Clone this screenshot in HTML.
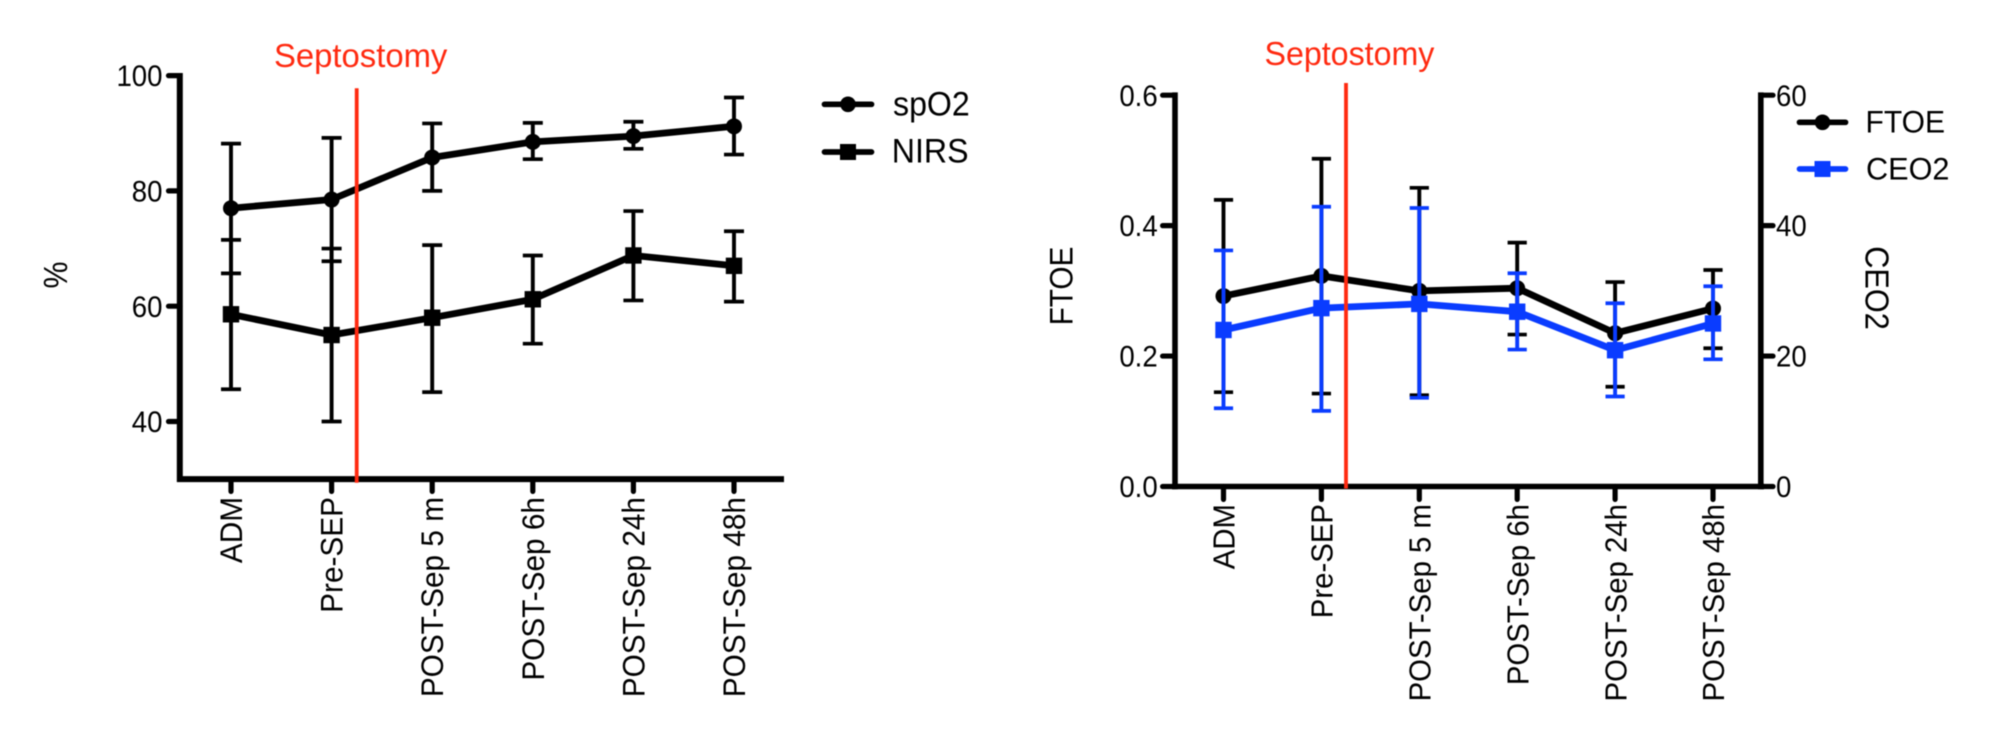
<!DOCTYPE html>
<html lang="en">
<head>
<meta charset="utf-8">
<title>Septostomy charts</title>
<style>
html,body{margin:0;padding:0;background:#fff;width:1989px;height:732px;overflow:hidden}
svg{display:block;filter:blur(0.4px)}
text{font-family:"Liberation Sans",Arial,sans-serif;fill:#000}
</style>
</head>
<body>
<svg id="figure" xmlns="http://www.w3.org/2000/svg" width="1989" height="732" viewBox="0 0 1989 732"></svg>
<script>
// Shared categories
const categories = ['ADM', 'Pre-SEP', 'POST-Sep 5 m', 'POST-Sep 6h', 'POST-Sep 24h', 'POST-Sep 48h'];

// Left chart values
const leftTicks = [40, 60, 80, 100];
const spo2Mean = [77, 78.5, 85.8, 88.5, 89.5, 91.2];
const spo2Upper = [88.2, 89.2, 91.7, 91.8, 92, 96.2];
const spo2Lower = [65.7, 67.8, 80, 85.5, 87.3, 86.3];
const nirsMean = [58.6, 55, 58, 61.2, 68.8, 67];
const nirsUpper = [71.5, 70, 70.6, 68.8, 76.5, 73];
const nirsLower = [45.6, 40, 45.1, 53.5, 61, 60.8];

// Right chart values
const ftoeTicks = ['0.0', '0.2', '0.4', '0.6'];
const ceo2Ticks = ['0', '20', '40', '60'];
const ftoeMean = [0.292, 0.323, 0.3, 0.304, 0.235, 0.273];
const ftoeUpper = [0.4395, 0.5025, 0.458, 0.374, 0.3135, 0.332];
const ftoeLower = [0.1446, 0.1425, 0.14, 0.233, 0.153, 0.212];
const ceo2Mean = [24, 27.35, 28, 26.8, 20.9, 25];
const ceo2Upper = [36.2, 42.9, 42.7, 32.7, 28.1, 30.7];
const ceo2Lower = [12, 11.6, 13.6, 21, 13.8, 19.5];

const NS = 'http://www.w3.org/2000/svg';
const svg = document.getElementById('figure');
const BLACK = '#000000', BLUE = '#0a3cff', RED = '#ff2a10';

function add(tag, attrs, txt) {
  const el = document.createElementNS(NS, tag);
  for (const k in attrs) el.setAttribute(k, attrs[k]);
  if (txt !== undefined) el.textContent = txt;
  svg.appendChild(el);
  return el;
}
function line(x1, y1, x2, y2, color, w, cap) {
  return add('line', {x1: x1, y1: y1, x2: x2, y2: y2, stroke: color, 'stroke-width': w, 'stroke-linecap': cap || 'butt'});
}
// Condense a text horizontally along its baseline, as in the reference.
function squeeze(t, f) {
  t.setAttribute('textLength', (t.getComputedTextLength() * f).toFixed(2));
  t.setAttribute('lengthAdjust', 'spacingAndGlyphs');
}

// Axis functions
const xLeft = i => 231 + i * 100.6;
const yLeft = v => 75.6 + (100 - v) * 5.765;
const xRight = i => 1223.5 + i * 97.9;
const yFtoe = v => 486.5 - v * (391.3 / 0.6);
const yCeo2 = v => 486.5 - v * (391.3 / 60);

function drawSeries(prefix, kind, color, xf, yf, mean, upper, lower, capHalf) {
  mean.forEach((m, i) => {
    const x = xf(i);
    const stem = line(x, yf(upper[i]), x, yf(lower[i]), color, 3.9);
    
    
    const capTop = line(x - capHalf, yf(upper[i]), x + capHalf, yf(upper[i]), color, 3.7);
    
    
    const capBottom = line(x - capHalf, yf(lower[i]), x + capHalf, yf(lower[i]), color, 3.7);
    
    
  });
  const pts = mean.map((m, i) => xf(i).toFixed(1) + ',' + yf(m).toFixed(1)).join(' ');
  const path = add('polyline', {points: pts, fill: 'none', stroke: color, 'stroke-width': 6.8, 'stroke-linejoin': 'round'});
  
  
  mean.forEach((m, i) => {
    const x = xf(i), y = yf(m);
    const mark = kind === 'circle'
      ? add('circle', {cx: x, cy: y, r: 8, fill: color})
      : add('rect', {x: x - 8.2, y: y - 8.2, width: 16.4, height: 16.4, fill: color});
    
    
  });
}

function drawLegend(prefix, kind, color, x1, x2, y, label, tx, ty, fs, f) {
  const l = line(x1, y, x2, y, color, 5.7, 'round');
  
  
  const cx = (x1 + x2) / 2;
  const mark = kind === 'circle'
    ? add('circle', {cx: cx, cy: y, r: 7.8, fill: color})
    : add('rect', {x: cx - 8, y: y - 8, width: 16, height: 16, fill: color});
  
  
  const t = add('text', {x: tx, y: ty, 'font-size': fs}, label);
  
  
  squeeze(t, f);
}

function drawCategories(xf, axisY, tickEnd, labelTop, fs, offset, f) {
  categories.forEach((c, i) => {
    const x = xf(i);
    const tick = line(x, axisY, x, tickEnd - 2.6, BLACK, 5.2, 'round');
    
    
    const bx = x + offset;
    const t = add('text', {x: bx, y: labelTop, 'font-size': fs, 'text-anchor': 'end', transform: 'rotate(-90 ' + bx + ' ' + labelTop + ')'}, c);
    
    
    squeeze(t, f);
  });
}

/* ---------- Left chart ---------- */
const lAxisY = line(179.8, 73, 179.8, 482, BLACK, 6);


const lAxisX = line(177, yLeft(30), 784, yLeft(30), BLACK, 6);


leftTicks.forEach(v => {
  const tick = line(168.5, yLeft(v), 180, yLeft(v), BLACK, 5.2, 'round');
  
  
  const t = add('text', {x: 162.5, y: yLeft(v) + 10.6, 'font-size': 30, 'text-anchor': 'end'}, String(v));
  
  
  squeeze(t, 0.92);
});
drawCategories(xLeft, yLeft(30), 494, 497, 31.5, 11, 0.945);
const lTitle = add('text', {x: 67, y: 275, 'font-size': 33, 'text-anchor': 'middle', transform: 'rotate(-90 67 275)'}, '%');


squeeze(lTitle, 0.92);

drawSeries('spo2', 'circle', BLACK, xLeft, yLeft, spo2Mean, spo2Upper, spo2Lower, 10);
drawSeries('nirs', 'square', BLACK, xLeft, yLeft, nirsMean, nirsUpper, nirsLower, 10);

const lRed = line(356.7, 88.3, 356.7, 482.7, RED, 3.8);


const lSep = add('text', {x: 274, y: 66.8, 'font-size': 33.5, style: 'fill:' + RED}, 'Septostomy');


squeeze(lSep, 0.98);

drawLegend('spo2', 'circle', BLACK, 824.5, 871.5, 104.3, 'spO2', 893, 115.7, 34, 0.945);
drawLegend('nirs', 'square', BLACK, 824.5, 871.5, 152, 'NIRS', 891.8, 162.7, 34, 0.945);

/* ---------- Right chart ---------- */
const rAxisL = line(1175, 92.4, 1175, 489.2, BLACK, 5.6);


const rAxisR = line(1760.8, 92.4, 1760.8, 489.2, BLACK, 5.6);


const rAxisX = line(1172, 486.5, 1764, 486.5, BLACK, 5.6);


ftoeTicks.forEach(v => {
  const y = yFtoe(parseFloat(v));
  const tick = line(1162.6, y, 1175, y, BLACK, 5.2, 'round');
  
  
  const t = add('text', {x: 1157.7, y: y + 10.6, 'font-size': 30, 'text-anchor': 'end'}, v);
  
  
  squeeze(t, 0.92);
});
ceo2Ticks.forEach(v => {
  const y = yCeo2(parseFloat(v));
  const tick = line(1760.8, y, 1773, y, BLACK, 5.2, 'round');
  
  
  const t = add('text', {x: 1776, y: y + 10.6, 'font-size': 30}, v);
  
  
  squeeze(t, 0.92);
});
drawCategories(xRight, 486.5, 502, 504, 31, 11.2, 0.947);
const rTitleL = add('text', {x: 1072.6, y: 286, 'font-size': 32, 'text-anchor': 'middle', transform: 'rotate(-90 1072.6 286)'}, 'FTOE');


squeeze(rTitleL, 0.93);
const rTitleR = add('text', {x: 1865.6, y: 288, 'font-size': 33, 'text-anchor': 'middle', transform: 'rotate(90 1865.6 288)'}, 'CEO2');


squeeze(rTitleR, 0.93);

drawSeries('ftoe', 'circle', BLACK, xRight, yFtoe, ftoeMean, ftoeUpper, ftoeLower, 9.6);
drawSeries('ceo2', 'square', BLUE, xRight, yCeo2, ceo2Mean, ceo2Upper, ceo2Lower, 9.6);

const rRed = line(1346, 83, 1346, 488.5, RED, 3.8);


const rSep = add('text', {x: 1264.5, y: 65.2, 'font-size': 33, style: 'fill:' + RED}, 'Septostomy');


squeeze(rSep, 0.975);

drawLegend('ftoe', 'circle', BLACK, 1799.5, 1845.5, 122.3, 'FTOE', 1865.5, 132.7, 31.6, 0.95);
drawLegend('ceo2', 'square', BLUE, 1799.5, 1845.5, 169, 'CEO2', 1866, 179.3, 31.6, 0.97);
</script>
</body>
</html>
